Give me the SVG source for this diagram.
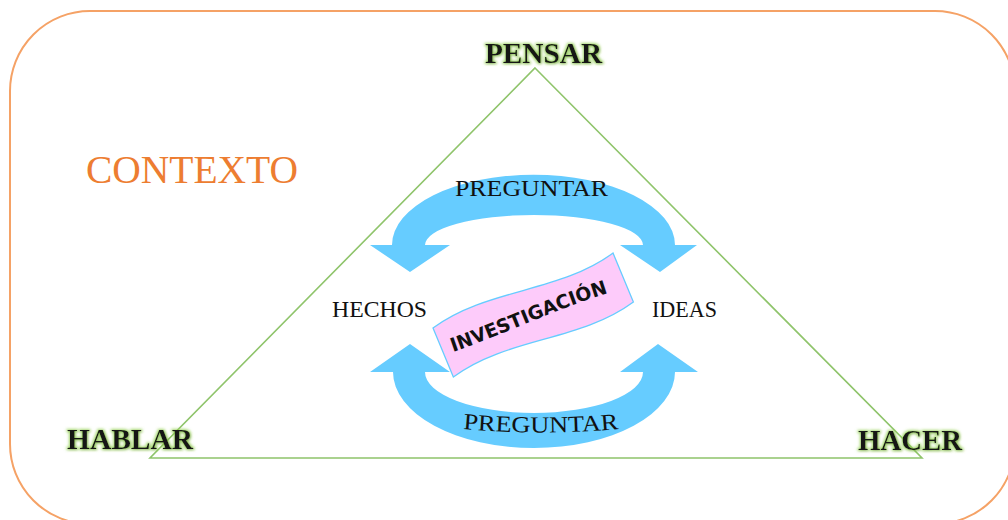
<svg xmlns="http://www.w3.org/2000/svg" width="1008" height="520" viewBox="0 0 1008 520">
<style>
.frame{fill:none;stroke:#F5A266;stroke-width:2}
.tri{fill:none;stroke:#8fc46b;stroke-width:1.6;stroke-linejoin:miter}
.corner{font-family:"Liberation Serif",serif;font-weight:bold;font-size:29px;fill:#151515}
.ctx{font-family:"Liberation Serif",serif;font-size:40px;fill:#ED7D31}
.lbl{font-family:"Liberation Serif",serif;font-size:23px;fill:#111}
.arrow{fill:#66CCFF}
.banner{fill:#FDCBFA;stroke:#66CCFF;stroke-width:1.3}
.inv{font-family:"DejaVu Sans","Liberation Sans",sans-serif;font-weight:bold;font-size:19px;fill:#111}
</style>
<defs>
<filter id="glow" x="-20%" y="-40%" width="140%" height="180%">
<feMorphology in="SourceAlpha" operator="dilate" radius="1.2" result="d"/>
<feGaussianBlur in="d" stdDeviation="1.8" result="b"/>
<feFlood flood-color="#92d050" flood-opacity="0.8"/>
<feComposite in2="b" operator="in" result="g"/>
<feOffset in="SourceAlpha" dx="1" dy="1" result="o"/>
<feGaussianBlur in="o" stdDeviation="0.8" result="ob"/>
<feFlood flood-color="#000" flood-opacity="0.3"/>
<feComposite in2="ob" operator="in" result="sh"/>
<feMerge><feMergeNode in="g"/><feMergeNode in="sh"/><feMergeNode in="SourceGraphic"/></feMerge>
</filter>
<path id="invPath" d="M453,352 C500,336 562,306 618,290"/>
<path id="pregBot" d="M463,429 Q541,436 619,429"/>
</defs>
<rect class="frame" x="10" y="11" width="1005" height="513" rx="80" ry="80"/>
<g id="triangle"><path class="tri" d="M535,68 L922,458 L150,458 Z"/></g>
<g id="connectors">
<path class="arrow" d="M392,245 A141,70 0 0 1 675,245 L697,245 L660,272 L620,245 L643,245 A109,30 0 0 0 425,245 L450,245 L410,272 L370,245 Z"/>
<path class="arrow" d="M393,372 A141,76 0 0 0 675,372 L698,372 L658,344 L620,372 L643,372 A109,41 0 0 1 425,372 L450,372 L410,344 L370,372 Z"/>
<text class="lbl" x="455" y="196" textLength="153" lengthAdjust="spacingAndGlyphs">PREGUNTAR</text>
<text class="lbl"><textPath href="#pregBot" textLength="156" lengthAdjust="spacingAndGlyphs">PREGUNTAR</textPath></text>
</g>
<g id="pensar"><text class="corner" x="485" y="63" textLength="117" lengthAdjust="spacingAndGlyphs" filter="url(#glow)">PENSAR</text></g>
<g id="hablar"><text class="corner" x="67" y="449" textLength="126" lengthAdjust="spacingAndGlyphs" filter="url(#glow)">HABLAR</text></g>
<g id="hacer"><text class="corner" x="858" y="450" textLength="104" lengthAdjust="spacingAndGlyphs" filter="url(#glow)">HACER</text></g>
<g id="contexto"><text class="ctx" x="86" y="183" textLength="212" lengthAdjust="spacingAndGlyphs">CONTEXTO</text></g>
<g id="hechos"><text class="lbl" x="332" y="317" textLength="95" lengthAdjust="spacingAndGlyphs">HECHOS</text></g>
<g id="ideas"><text class="lbl" x="652" y="317" textLength="65" lengthAdjust="spacingAndGlyphs">IDEAS</text></g>
<g id="investigacion">
<path class="banner" transform="translate(433,328) rotate(-22.6)" d="M0,0 C65,-16 130,16 195,0 L195,53 C130,69 65,37 0,53 Z"/>
<text class="inv"><textPath href="#invPath" textLength="166" lengthAdjust="spacingAndGlyphs">INVESTIGACIÓN</textPath></text>
</g>
</svg>
